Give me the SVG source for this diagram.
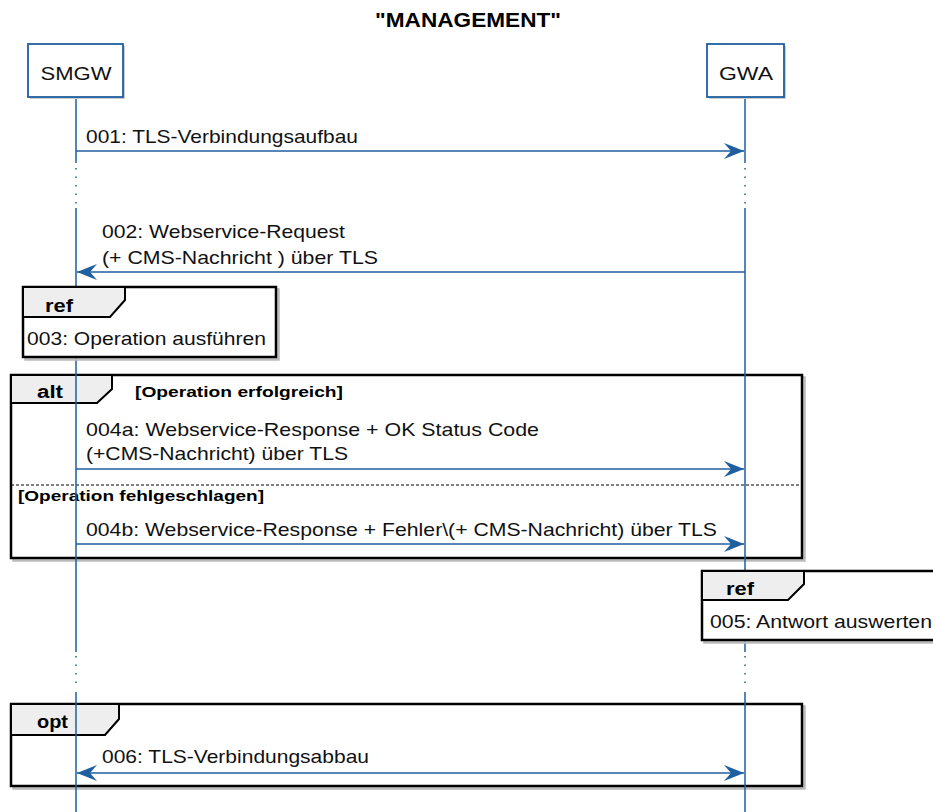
<svg xmlns="http://www.w3.org/2000/svg" width="933" height="812" viewBox="0 0 933 812">
<style>
.t{font-family:"Liberation Sans",Arial,sans-serif;font-size:18.5px;fill:#111}
.tb{font-family:"Liberation Sans",Arial,sans-serif;font-weight:bold;fill:#000}
.ll{stroke:#1f5fa0;stroke-width:1.5;fill:none}
.dot{stroke:#1f5fa0;stroke-width:1.5;stroke-dasharray:1.5 7;fill:none}
.msg{stroke:#1f5fa0;stroke-width:1.5;fill:none}
.frame{fill:none;stroke:#000;stroke-width:2.5}
.fsh{fill:none;stroke:#bbb;stroke-width:2.5}
.tab{fill:#eeeeee;stroke:#000;stroke-width:2}
.pbox{fill:#fff;stroke:#1f5fa0;stroke-width:1.8}
</style>
<defs>
<marker id="ah" viewBox="-21 -9 22 18" refX="0" refY="0" markerWidth="22" markerHeight="18" markerUnits="userSpaceOnUse" orient="auto-start-reverse">
<path d="M0,0 L-20,-8 L-13,0 L-20,8 Z" fill="#1f5fa0"/>
</marker>
</defs>
<rect width="933" height="812" fill="#fff"/>
<text class="tb" x="468" y="27" font-size="19.5" text-anchor="middle" textLength="186" lengthAdjust="spacingAndGlyphs">"MANAGEMENT"</text>

<!-- combined fragments that lifelines cross -->
<g id="alt">
<rect class="fsh" x="13.5" y="377.5" width="791" height="183"/>
<rect x="11" y="375" width="791" height="183" fill="#fff" stroke="#000" stroke-width="2.5"/>
<path class="tab" d="M11,375 H112 V389 L97,403 H11 Z"/>
<line x1="11" y1="485" x2="802" y2="485" stroke="#000" stroke-width="1" stroke-dasharray="3 2"/>
<text class="tb" x="37" y="398" font-size="18" textLength="26" lengthAdjust="spacingAndGlyphs">alt</text>
<text class="tb" x="135" y="397" font-size="15" textLength="208" lengthAdjust="spacingAndGlyphs">[Operation erfolgreich]</text>
<text class="tb" x="18" y="501" font-size="15" textLength="246" lengthAdjust="spacingAndGlyphs">[Operation fehlgeschlagen]</text>
</g>
<g id="opt">
<rect class="fsh" x="13.5" y="706.5" width="791" height="82"/>
<rect x="11" y="704" width="791" height="82" fill="#fff" stroke="#000" stroke-width="2.5"/>
<path class="tab" d="M11,704 H119 V719 L105,735 H11 Z"/>
<text class="tb" x="37" y="728" font-size="18" textLength="31" lengthAdjust="spacingAndGlyphs">opt</text>
</g>

<!-- lifelines -->
<g id="lifelines">
<path class="ll" d="M76,97 V163 M76,208 V652 M76,692 V812"/>
<path class="dot" d="M76,168 V206 M76,656 V690"/>
<path class="ll" d="M745,97 V163 M745,208 V652 M745,692 V812"/>
<path class="dot" d="M745,168 V206 M745,656 V690"/>
</g>

<g id="SMGW">
<rect x="30" y="46" width="95" height="53" fill="#ccc" stroke="none"/>
<rect class="pbox" x="28" y="44" width="95" height="53"/>
<text class="t" x="76" y="80" font-size="20" text-anchor="middle" textLength="71" lengthAdjust="spacingAndGlyphs">SMGW</text>
</g>
<g id="GWA">
<rect x="709" y="46" width="77" height="53" fill="#ccc" stroke="none"/>
<rect class="pbox" x="707" y="44" width="77" height="53"/>
<text class="t" x="746" y="80" font-size="20" text-anchor="middle" textLength="54" lengthAdjust="spacingAndGlyphs">GWA</text>
</g>

<g id="ref1">
<rect class="fsh" x="25.5" y="289.5" width="253" height="70"/>
<rect x="23" y="287" width="253" height="70" fill="#fff" stroke="#000" stroke-width="2.5"/>
<path class="tab" d="M23,287 H125 V300 L110,317 H23 Z"/>
<text class="tb" x="45" y="312" font-size="19" textLength="28" lengthAdjust="spacingAndGlyphs">ref</text>
<text class="t" x="27" y="345" textLength="239" lengthAdjust="spacingAndGlyphs">003: Operation ausführen</text>
</g>
<g id="ref2">
<rect class="fsh" x="704.5" y="573.5" width="240" height="69"/>
<rect x="702" y="571" width="240" height="69" fill="#fff" stroke="#000" stroke-width="2.5"/>
<path class="tab" d="M702,571 H804 V584 L788,600 H702 Z"/>
<text class="tb" x="726" y="595" font-size="19" textLength="28" lengthAdjust="spacingAndGlyphs">ref</text>
<text class="t" x="710" y="628" textLength="222" lengthAdjust="spacingAndGlyphs">005: Antwort auswerten</text>
</g>

<g id="connectors">
<line class="msg" x1="76" y1="151" x2="744" y2="151" marker-end="url(#ah)"/>
<line class="msg" x1="745" y1="272" x2="77" y2="272" marker-end="url(#ah)"/>
<line class="msg" x1="76" y1="469" x2="744" y2="469" marker-end="url(#ah)"/>
<line class="msg" x1="76" y1="544" x2="744" y2="544" marker-end="url(#ah)"/>
<line class="msg" x1="77" y1="773" x2="744" y2="773" marker-start="url(#ah)" marker-end="url(#ah)"/>
</g>
<g id="labels">
<text class="t" x="86" y="143" textLength="272" lengthAdjust="spacingAndGlyphs">001: TLS-Verbindungsaufbau</text>
<text class="t" x="102" y="238" textLength="243" lengthAdjust="spacingAndGlyphs">002: Webservice-Request</text>
<text class="t" x="102" y="264" textLength="276" lengthAdjust="spacingAndGlyphs">(+ CMS-Nachricht ) über TLS</text>
<text class="t" x="86" y="436" textLength="453" lengthAdjust="spacingAndGlyphs">004a: Webservice-Response + OK Status Code</text>
<text class="t" x="86" y="460" textLength="262" lengthAdjust="spacingAndGlyphs">(+CMS-Nachricht) über TLS</text>
<text class="t" x="86" y="536" textLength="631" lengthAdjust="spacingAndGlyphs">004b: Webservice-Response + Fehler\(+ CMS-Nachricht) über TLS</text>
<text class="t" x="102" y="763" textLength="267" lengthAdjust="spacingAndGlyphs">006: TLS-Verbindungsabbau</text>
</g>
</svg>
